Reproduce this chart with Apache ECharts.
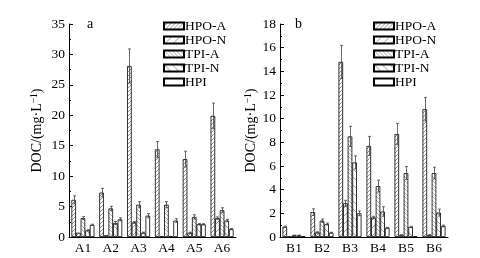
<!DOCTYPE html>
<html>
<head>
<meta charset="utf-8">
<script src="https://cdn.jsdelivr.net/npm/echarts@6/dist/echarts.min.js"></script>
<style>
  html, body { margin: 0; padding: 0; background: #fff; }
  #chart { width: 480px; height: 258px; }
</style>
</head>
<body>
<div id="chart"></div>
<script>
const fractions = ['HPO-A', 'HPO-N', 'TPI-A', 'TPI-N', 'HPI'];
const sitesA = ['A1', 'A2', 'A3', 'A4', 'A5', 'A6'];
const sitesB = ['B1', 'B2', 'B3', 'B4', 'B5', 'B6'];

// panel a, DOC (mg/L)
const hpoA_a = [6.1, 7.3, 28.1, 14.4, 12.8, 19.9];
const hpoN_a = [0.7, 0.3, 2.4, 0.1, 0.7, 3.1];
const tpiA_a = [3.1, 4.7, 5.3, 5.3, 3.3, 4.4];
const tpiN_a = [1.1, 2.3, 0.7, 0.1, 2.1, 2.7];
const hpi_a = [2.0, 2.9, 3.5, 2.7, 2.1, 1.3];
const hpoAErr_a = [0.65, 0.7, 2.8, 1.3, 1.3, 2.1];
const hpoNErr_a = [0, 0, 0.15, 0, 0.1, 0.2];
const tpiAErr_a = [0.25, 0.35, 0.5, 0.5, 0.35, 0.4];
const tpiNErr_a = [0.1, 0.25, 0.1, 0, 0.1, 0.2];
const hpiErr_a = [0.1, 0.25, 0.35, 0.3, 0.1, 0.1];

// panel b
const hpoA_b = [0.87, 2.1, 14.8, 7.7, 8.7, 10.8];
const hpoN_b = [0.03, 0.39, 2.85, 1.65, 0.17, 0.17];
const tpiA_b = [0.14, 1.38, 8.5, 4.3, 5.4, 5.4];
const tpiN_b = [0.14, 1.1, 6.3, 2.15, 0.85, 2.06];
const hpi_b = [0.08, 0.37, 2.0, 0.78, 0.05, 0.93];
const hpoAErr_b = [0.05, 0.28, 1.4, 0.8, 0.9, 1.0];
const hpoNErr_b = [0, 0.05, 0.25, 0.1, 0.02, 0.02];
const tpiAErr_b = [0.02, 0.14, 0.85, 0.5, 0.55, 0.5];
const tpiNErr_b = [0.02, 0.08, 0.55, 0.4, 0.05, 0.3];
const hpiErr_b = [0, 0.03, 0.2, 0.03, 0, 0.07];

const yTicksA = { min: 0, max: 35, interval: 5 };
const yTicksB = { min: 0, max: 18, interval: 2 };

const FONT = 'Liberation Serif';
const BAR_W = 4.6;

// hatch fills
function hatch(size, back, color, width) {
  const c = document.createElement('canvas');
  c.width = size; c.height = size;
  const ctx = c.getContext('2d');
  ctx.fillStyle = '#fff';
  ctx.fillRect(0, 0, size, size);
  ctx.strokeStyle = color;
  ctx.lineWidth = width;
  ctx.beginPath();
  if (!back) {
    ctx.moveTo(0, size); ctx.lineTo(size, 0);
    ctx.moveTo(-1, 1); ctx.lineTo(1, -1);
    ctx.moveTo(size - 1, size + 1); ctx.lineTo(size + 1, size - 1);
  } else {
    ctx.moveTo(0, 0); ctx.lineTo(size, size);
    ctx.moveTo(-1, size - 1); ctx.lineTo(1, size + 1);
    ctx.moveTo(size - 1, -1); ctx.lineTo(size + 1, 1);
  }
  ctx.stroke();
  return { image: c, repeat: 'repeat' };
}
const fills = [
  hatch(4, false, '#666', 0.7),
  hatch(8, false, '#777', 0.7),
  hatch(4, true, '#888', 0.7),
  hatch(8, true, '#777', 0.7),
  '#fff'
];

const valsA = [hpoA_a, hpoN_a, tpiA_a, tpiN_a, hpi_a];
const errsA = [hpoAErr_a, hpoNErr_a, tpiAErr_a, tpiNErr_a, hpiErr_a];
const valsB = [hpoA_b, hpoN_b, tpiA_b, tpiN_b, hpi_b];
const errsB = [hpoAErr_b, hpoNErr_b, tpiAErr_b, tpiNErr_b, hpiErr_b];

function errSeries(idx, vals, errs, axis) {
  const offset = (idx - 2) * BAR_W;
  return {
    type: 'custom',
    xAxisIndex: axis, yAxisIndex: axis,
    z: 5,
    silent: true,
    data: vals.map((v, i) => [i, v, errs[i]]),
    renderItem: (params, api) => {
      const e = api.value(2);
      if (!e) return null;
      const c = api.value(0), v = api.value(1);
      const top = api.coord([c, v + e]);
      const bot = api.coord([c, Math.max(v - e, 0)]);
      const x = Math.round(top[0] + offset) + 0.5;
      const st = { stroke: '#444', lineWidth: 0.8 };
      return {
        type: 'group',
        children: [
          { type: 'line', shape: { x1: x, y1: top[1], x2: x, y2: bot[1] }, style: st },
          { type: 'line', shape: { x1: x - 1.5, y1: top[1], x2: x + 1.5, y2: top[1] }, style: st },
          { type: 'line', shape: { x1: x - 1.5, y1: bot[1], x2: x + 1.5, y2: bot[1] }, style: st }
        ]
      };
    }
  };
}

const series = [];
[[valsA, errsA, 0], [valsB, errsB, 1]].forEach(([vals, errs, axis]) => {
  fractions.forEach((name, k) => {
    series.push({
      name: name,
      type: 'bar',
      xAxisIndex: axis, yAxisIndex: axis,
      barWidth: BAR_W,
      barGap: '0%',
      data: vals[k],
      itemStyle: { color: fills[k], borderColor: '#000', borderWidth: 0.8 },
      emphasis: { disabled: true }
    });
  });
  fractions.forEach((name, k) => series.push(errSeries(k, vals[k], errs[k], axis)));
});

const axisCommon = {
  axisLine: { show: true, lineStyle: { color: '#000', width: 1 } },
  splitLine: { show: false }
};

function yAxis(ticks, gridIndex) {
  return Object.assign({}, axisCommon, {
    type: 'value',
    gridIndex: gridIndex,
    min: ticks.min, max: ticks.max, interval: ticks.interval,
    axisTick: { show: true, inside: true, length: 4, lineStyle: { color: '#000' } },
    minorTick: { show: true, splitNumber: 2, length: 2, lineStyle: { color: '#000' } },
    axisLabel: { color: '#000', fontFamily: FONT, fontSize: 13.5, margin: 4 },
    name: '{t|DOC/(mg·L}{s|−1}{t|)}',
    nameLocation: 'middle',
    nameRotate: 90,
    nameGap: gridIndex === 0 ? 24 : 18,
    nameTextStyle: {
      rich: {
        t: { fontFamily: FONT, fontSize: 14, color: '#000' },
        s: { fontFamily: FONT, fontSize: 9.5, color: '#000', verticalAlign: 'top', padding: [0, 0, 6, 0] }
      }
    }
  });
}

function xAxis(cats, gridIndex) {
  return Object.assign({}, axisCommon, {
    type: 'category',
    gridIndex: gridIndex,
    data: cats,
    axisTick: { show: false },
    axisLabel: { color: '#000', fontFamily: FONT, fontSize: 13.5, margin: 4 }
  });
}

function legend(left) {
  return {
    orient: 'vertical',
    left: left, top: 19,
    data: fractions,
    icon: 'rect',
    itemWidth: 20, itemHeight: 7,
    itemGap: 0,
    padding: 0,
    selectedMode: false,
    textStyle: { fontFamily: FONT, fontSize: 13.5, color: '#000', lineHeight: 13.8, padding: [0, 0, 0, -4] }
  };
}

const chart = echarts.init(document.getElementById('chart'), null, { renderer: 'canvas' });
chart.setOption({
  animation: false,
  backgroundColor: '#fff',
  title: [
    { text: 'a', left: 87, top: 17, padding: 0, textStyle: { fontFamily: FONT, fontSize: 14, fontWeight: 'normal', color: '#000' } },
    { text: 'b', left: 295, top: 17, padding: 0, textStyle: { fontFamily: FONT, fontSize: 14, fontWeight: 'normal', color: '#000' } }
  ],
  legend: [legend(163), legend(373)],
  grid: [
    { left: 69, top: 24, width: 167, height: 213 },
    { left: 280, top: 24, width: 168, height: 213 }
  ],
  xAxis: [xAxis(sitesA, 0), xAxis(sitesB, 1)],
  yAxis: [yAxis(yTicksA, 0), yAxis(yTicksB, 1)],
  series: series
});
</script>
</body>
</html>
